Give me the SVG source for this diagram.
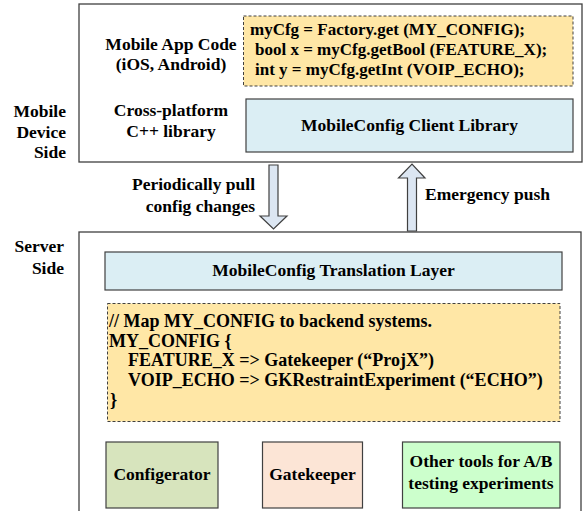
<svg xmlns="http://www.w3.org/2000/svg" width="588" height="511" viewBox="0 0 588 511">
<style>
text{font-family:"Liberation Serif","Times New Roman",serif;font-weight:bold;font-size:17.5px;fill:#000}
.c{text-anchor:middle}
.r{text-anchor:end}
.k1{font-size:17px}
.k2{font-size:18px}
.frame{fill:#fff;stroke:#404040;stroke-width:1.3}
.blue{fill:#dbeef4;stroke:#404040;stroke-width:1.2}
.code{fill:#ffe7a6;stroke:#404040;stroke-width:1;stroke-dasharray:3 2}
.tool{stroke:#404040;stroke-width:1.2}
.arr{fill:#dce6f2;stroke:#404040;stroke-width:1.2}
</style>
<rect width="588" height="511" fill="#fff"/>
<g id="mobile-side">
<rect class="frame" x="79" y="4" width="503" height="158"/>
<text class="r" x="66" y="117">Mobile</text>
<text class="r" x="66" y="138">Device</text>
<text class="r" x="66" y="158">Side</text>
<text class="c" x="171" y="50">Mobile App Code</text>
<text class="c" x="171" y="70">(iOS, Android)</text>
<text class="c" x="171" y="116">Cross-platform</text>
<text class="c" x="171" y="137">C++ library</text>
</g>
<g id="app-code">
<rect class="code" x="243.5" y="16" width="329.5" height="70"/>
<text class="k1" x="250" y="35">myCfg = Factory.get (MY_CONFIG);</text>
<text class="k1" x="255" y="55">bool x = myCfg.getBool (FEATURE_X);</text>
<text class="k1" x="255" y="75">int y = myCfg.getInt (VOIP_ECHO);</text>
</g>
<g id="client-library">
<rect class="blue" x="246" y="99" width="327" height="53"/>
<text class="c" x="409.5" y="131">MobileConfig Client Library</text>
</g>
<g id="server-side">
<rect class="frame" x="79" y="232" width="502" height="285"/>
<text class="r" x="64" y="252">Server</text>
<text class="r" x="64" y="274">Side</text>
</g>
<g id="translation-layer">
<rect class="blue" x="105" y="252" width="457" height="38"/>
<text class="c" x="333.5" y="276">MobileConfig Translation Layer</text>
</g>
<g id="mapping-code">
<rect class="code" x="107.5" y="303.5" width="452.5" height="118"/>
<text class="k2" x="109" y="327">// Map MY_CONFIG to backend systems.</text>
<text class="k2" x="109" y="347">MY_CONFIG {</text>
<text class="k2" x="128" y="366">FEATURE_X =&gt; Gatekeeper (“ProjX”)</text>
<text class="k2" x="128" y="386">VOIP_ECHO =&gt; GKRestraintExperiment (“ECHO”)</text>
<text class="k2" x="110" y="406">}</text>
</g>
<g id="configerator">
<rect class="tool" x="106" y="442" width="112" height="66" fill="#d7e4bd"/>
<text class="c" x="162" y="480">Configerator</text>
</g>
<g id="gatekeeper">
<rect class="tool" x="262.5" y="442" width="100" height="66" fill="#fce5d6"/>
<text class="c" x="312.5" y="480">Gatekeeper</text>
</g>
<g id="other-tools">
<rect class="tool" x="402.5" y="442" width="157.5" height="66" fill="#ccffcc"/>
<text class="c" x="481" y="467">Other tools for A/B</text>
<text class="c" x="481" y="489">testing experiments</text>
</g>
<g id="connectors">
<polygon class="arr" points="269,165 278,165 278,216 287,216 273.5,229 260,216 269,216"/>
<text class="r" x="255" y="190">Periodically pull</text>
<text class="r" x="255" y="212">config changes</text>
<polygon class="arr" points="407.5,231 416.5,231 416.5,178 425,178 412,164 398.5,178 407.5,178"/>
<text x="425" y="200">Emergency push</text>
</g>
</svg>
